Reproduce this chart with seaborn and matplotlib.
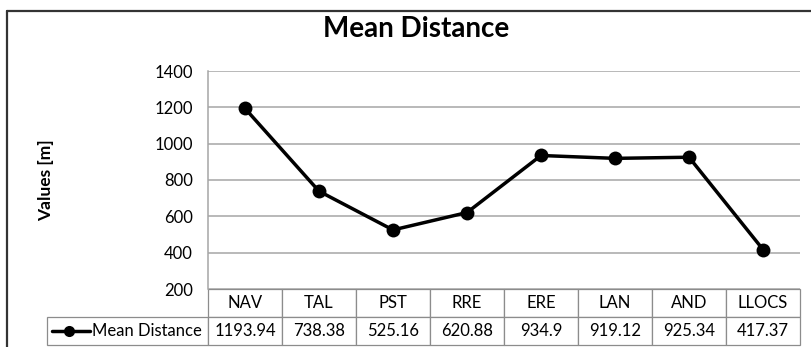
import numpy as np
import pandas as pd
import matplotlib
matplotlib.use('Agg')
import matplotlib.pyplot as plt
from matplotlib.lines import Line2D
import seaborn as sns

# data
categories = ['NAV', 'TAL', 'PST', 'RRE', 'ERE', 'LAN', 'AND', 'LLOCS']
mean_distance = [1193.94, 738.38, 525.16, 620.88, 934.9, 919.12, 925.34, 417.37]
series_name = 'Mean Distance'
y_ticks = [200, 400, 600, 800, 1000, 1200, 1400]

sns.set_theme(style='white')
plt.rcParams['font.family'] = ['Lato', 'DejaVu Sans']

W, H = 812, 347
fig = plt.figure(figsize=(W / 100, H / 100), dpi=100)
fig.patch.set_facecolor('white')

# plot area (pixels: x 208-800, y 71-289)
ax = fig.add_axes([208 / W, 1 - 289 / H, 592 / W, 218 / H])

df = pd.DataFrame({'cat': categories, 'val': mean_distance})
sns.lineplot(data=df, x='cat', y='val', sort=False, color='black',
             linewidth=2.5, marker='o', markersize=10, markeredgewidth=0,
             ax=ax, zorder=5)

ax.set_xlim(-0.5, len(categories) - 0.5)
ax.set_ylim(y_ticks[0], y_ticks[-1])
ax.set_yticks(y_ticks)
ax.yaxis.grid(True, color='#a6a6a6', linewidth=1.1)
ax.set_axisbelow(True)
for s in ['top', 'right', 'bottom']:
    ax.spines[s].set_visible(False)
ax.spines['left'].set_color('#a6a6a6')
ax.spines['left'].set_linewidth(1.1)
ax.tick_params(axis='x', labelbottom=False, length=0)
ax.tick_params(axis='y', length=0, pad=11, labelsize=12, labelcolor='black')
ax.set_xlabel('')
ax.set_ylabel('Values [m]', fontsize=12.5, fontweight='bold', color='black')
ax.yaxis.set_label_coords(-0.260, 0.5)

# data table below the plot; bbox covers the category columns only,
# the row-label column hangs off to the left
ncol = len(categories)
tbl = ax.table(cellText=[[f'{v:g}' for v in mean_distance]],
               rowLabels=[series_name], colLabels=categories,
               colWidths=[1 / ncol] * ncol,
               cellLoc='center', rowLoc='right', colLoc='center',
               bbox=[0, -56 / 218, 1, 56 / 218])
tbl._autoColumns = []
tbl.auto_set_font_size(False)
tbl.set_fontsize(12)
for key, cell in tbl.get_celld().items():
    cell.set_edgecolor('#8c8c8c')
    cell.set_linewidth(0.9)
    cell.get_text().set_color('black')
    if key[1] == -1:
        cell.set_width(161 / 592)
        cell.PAD = 0.04

# legend key inside the row-label cell
key_y = -(330.5 - 289) / 218
ax.plot([(52 - 208) / 592, (90 - 208) / 592], [key_y, key_y],
        transform=ax.transAxes, clip_on=False, color='black', linewidth=2.5)
ax.plot([(69 - 208) / 592], [key_y], transform=ax.transAxes, clip_on=False,
        color='black', marker='o', markersize=8, markeredgewidth=0)

# title
fig.text(416 / W, 1 - 37 / H, 'Mean Distance', ha='center', va='baseline',
         fontsize=20, fontweight='bold', color='black')

# outer chart border
fig.add_artist(Line2D([7 / W, 7 / W], [0, 1 - 10.5 / H], color='#333333', linewidth=1.6))
fig.add_artist(Line2D([7 / W, 1], [1 - 10.5 / H, 1 - 10.5 / H], color='#333333', linewidth=1.6))

fig.savefig('out.png', dpi=100)
